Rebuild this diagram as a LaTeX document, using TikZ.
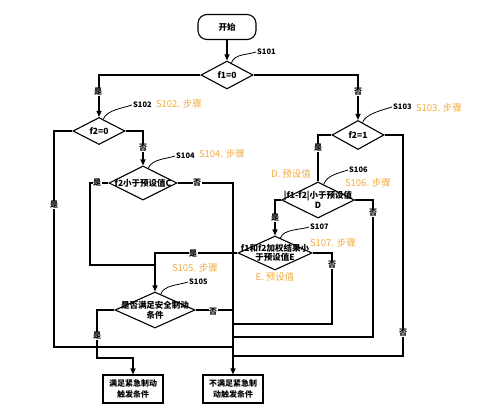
\documentclass[tikz,border=0pt]{standalone}
\usepackage{fontspec}
\setmainfont{Noto Sans CJK SC}
\usetikzlibrary{shapes.geometric,arrows.meta}
\definecolor{stepor}{RGB}{242,172,64}
\tikzset{
  dec/.style={diamond, draw, line width=1.1pt, inner sep=0pt},
  lbl/.style={font=\fontsize{8.5}{9.5}\selectfont\bfseries, align=center, inner sep=0pt},
  box/.style={draw, line width=1.1pt, minimum width=60pt, minimum height=28pt, align=center, inner sep=1pt, font=\fontsize{8}{10.5}\selectfont\bfseries},
  ln/.style={line width=1.1pt},
  arr/.style={line width=1.1pt, -{Triangle[length=6pt,width=5pt]}},
  sid/.style={anchor=west, inner sep=1pt, font=\fontsize{7.5}{8}\selectfont\bfseries},
  note/.style={text=stepor, inner sep=0pt, font=\fontsize{9.5}{10}\selectfont},
  yn/.style={fill=white, inner sep=0.5pt, font=\fontsize{8}{8}\selectfont\bfseries},
  callout/.style={line width=0.8pt}
}
\begin{document}
\begin{tikzpicture}[x=1pt,y=-1pt]
\useasboundingbox (0,0) rectangle (480,415);
% steps
\node[draw, line width=1.1pt, rounded corners=9pt, minimum width=58pt, minimum height=25pt, font=\fontsize{8.5}{9}\selectfont\bfseries] (start) at (227,27) {开始};
\node[dec, minimum width=52pt, minimum height=28pt, label={[lbl]center:f1=0}] (d1) at (227,75) {};
\node[dec, minimum width=52pt, minimum height=27pt, label={[lbl]center:f2=0}] (d2) at (99,131) {};
\node[dec, minimum width=52pt, minimum height=29pt, label={[lbl]center:f2=1}] (d3) at (358,135) {};
\node[dec, minimum width=68pt, minimum height=34pt, label={[lbl]center:f2小于预设值C}] (d4) at (143,183) {};
\node[dec, minimum width=73pt, minimum height=36pt, label={[lbl]center:{|f1-f2|小于预设值\\D}}] (d6) at (318,200) {};
\node[dec, minimum width=74pt, minimum height=34pt, label={[lbl]center:{f1和f2加权结果小\\于预设值E}}] (d7) at (275,253) {};
\node[dec, minimum width=80pt, minimum height=36pt, label={[lbl]center:{是否满足安全制动\\条件}}] (d5) at (155,310) {};
\node[box] (box1) at (133,389) {满足紧急制动\\触发条件};
\node[box] (box2) at (233,389) {不满足紧急制\\动触发条件};
% step ids
\node[sid] (s101) at (256,52) {S101};
\node[sid] (s102) at (132,105) {S102};
\node[sid] (s103) at (392,107) {S103};
\node[sid] (s104) at (175,156) {S104};
\node[sid] (s106) at (348,170) {S106};
\node[sid] (s107) at (309,227) {S107};
\node[sid] (s105) at (188,282) {S105};
\draw[callout] (d1.70) .. controls +(3,-9) and +(-9,3) .. (s101.west);
\draw[callout] (d2.70) .. controls +(3,-9) and +(-9,3) .. (s102.west);
\draw[callout] (d3.70) .. controls +(3,-9) and +(-9,3) .. (s103.west);
\draw[callout] (d4.70) .. controls +(3,-9) and +(-9,3) .. (s104.west);
\draw[callout] (d6.70) .. controls +(3,-9) and +(-9,3) .. (s106.west);
\draw[callout] (d7.70) .. controls +(3,-9) and +(-9,3) .. (s107.west);
\draw[callout] (d5.70) .. controls +(3,-9) and +(-9,3) .. (s105.west);
% notes
\node[note] (n102) at (179,104) {S102. 步骤};
\node[note] (n103) at (439,108) {S103. 步骤};
\node[note] (n104) at (222,154) {S104. 步骤};
\node[note] (n106) at (368,183) {S106. 步骤};
\node[note] (nD) at (291,174) {D. 预设值};
\node[note] (n107) at (333,243) {S107. 步骤};
\node[note] (nE) at (275,277) {E. 预设值};
\node[note] (n105) at (195,268) {S105. 步骤};
% joints
\coordinate (jl) at (54,347);
\coordinate (j4) at (90,265);
\coordinate (j3) at (403,356);
\coordinate (j6) at (373,337);
\coordinate (j7) at (332,324);
\coordinate (j5) at (97,358);
% flow
\draw[arr] (start) -- (d1);
\draw[arr] (d1.west) -| (d2.north);
\draw[arr] (d1.east) -| (d3.north);
\draw[arr] (d2.east) -| (d4.north);
\draw[ln] (d2.west) -| (jl) -- (jl -| box2.north);
\draw[ln] (d4.west) -| (j4) -- (j4 -| d5.north);
\draw[arr] (d4.east) -| (box2.north);
\draw[ln] (d3.west) -| (d6.north);
\draw[ln] (d3.east) -| (j3) -- (j3 -| box2.north);
\draw[arr] (d6.west) -| (d7.north);
\draw[ln] (d6.east) -| (j6) -- (j6 -| box2.north);
\draw[arr] (d7.west) -| (d5.north);
\draw[ln] (d7.east) -| (j7) -- (j7 -| box2.north);
\draw[arr] (d5.west) -| (j5) -| (box1.north);
\draw[ln] (d5.east) -- (d5.east -| box2.north);
% yes / no
\foreach \px/\py/\t in {98/92/是, 358/92/否, 143/148/否, 97/183/是, 197/183/否, 318/148/是,
  373/213/否, 275/218/是, 332/265/否, 193/254/是, 213/312/否, 97/336/是, 54/205/是, 403/333/否}
  \node[yn] (yn\px\py) at (\px,\py) {\t};
\end{tikzpicture}
\end{document}
